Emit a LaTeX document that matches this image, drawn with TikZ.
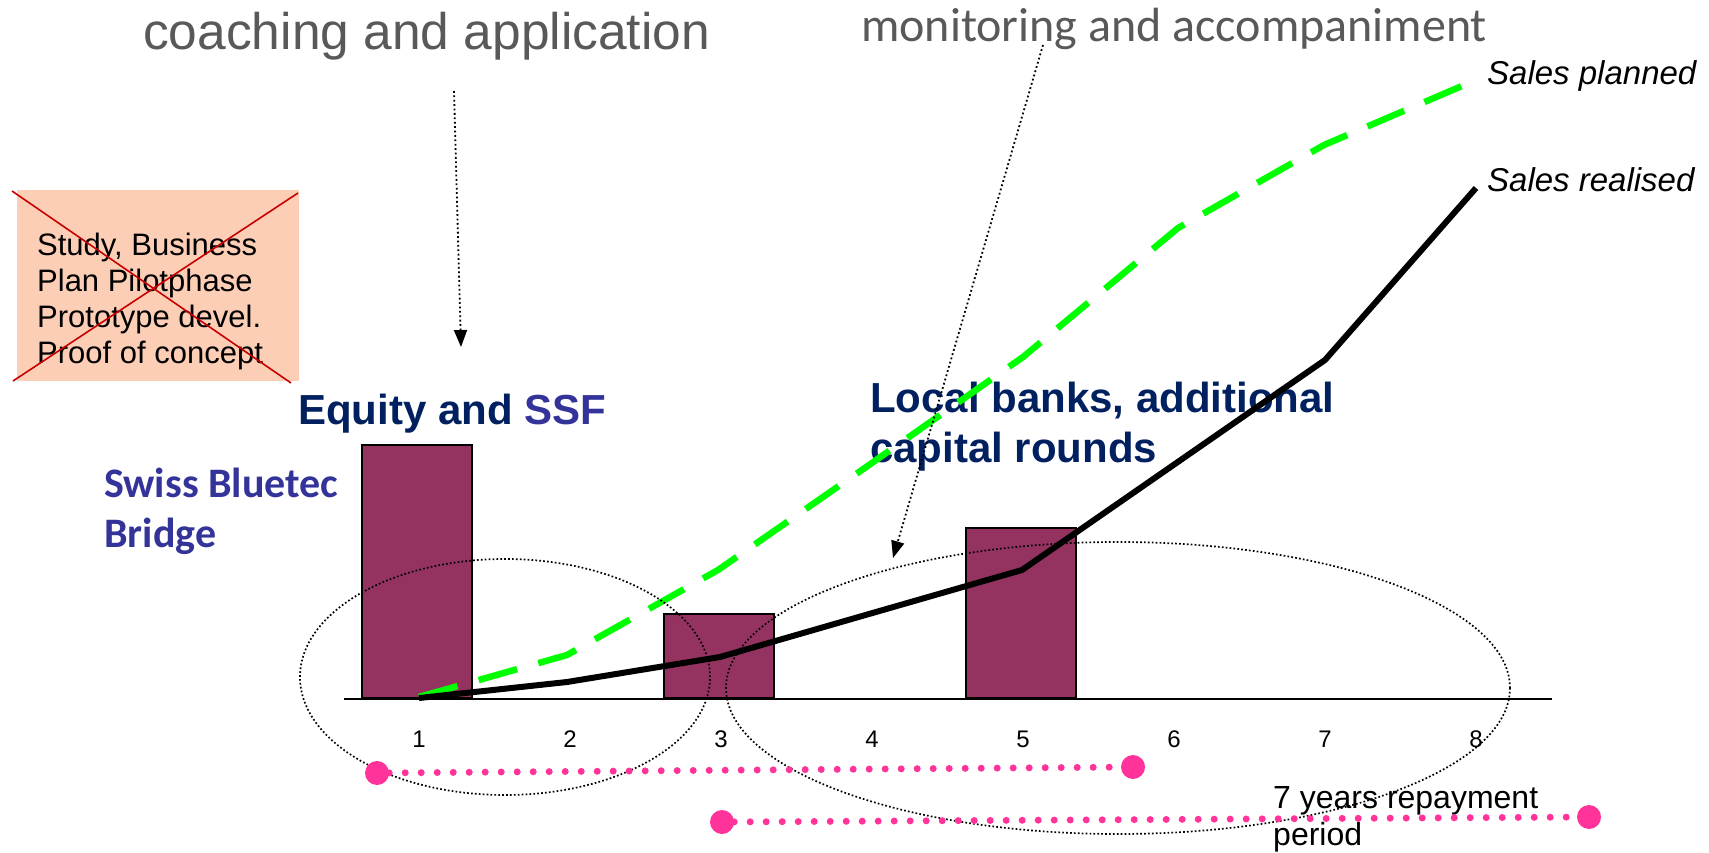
\documentclass[tikz,border=0pt]{standalone}
\usepackage{fontspec}
\setmainfont{Liberation Sans}
\newfontfamily\carlito{Carlito}
\usetikzlibrary{arrows.meta}
\definecolor{txtgray}{RGB}{89,89,89}
\definecolor{navy}{RGB}{0,32,96}
\definecolor{ssfblue}{RGB}{51,51,153}
\definecolor{barcol}{RGB}{148,51,96}
\definecolor{peach}{RGB}{252,206,182}
\definecolor{redx}{RGB}{200,0,0}
\definecolor{hotpink}{RGB}{255,51,153}
\definecolor{lime}{RGB}{0,255,0}
\begin{document}
\begin{tikzpicture}[x=1pt,y=-1pt,
  lbl/.style={inner sep=0pt, anchor=base west},
  bar/.style={draw=black, line width=2pt, fill=barcol, minimum width=110pt, inner sep=0pt, anchor=south},
  ticklbl/.style={inner sep=0pt, font=\fontsize{24}{28}\selectfont},
  ell/.style={draw=black, line width=1.7pt, dash pattern=on 1.7pt off 2.2pt},
  darrow/.style={draw=black, line width=1.8pt, dash pattern=on 1.8pt off 2.6pt, -{Triangle[length=17pt,width=13pt]}},
  pinkdot/.style={circle, fill=hotpink, minimum size=24pt, inner sep=0pt},
  pinkline/.style={draw=hotpink, line width=7pt, line cap=round, dash pattern=on 0pt off 16pt},
  planned/.style={draw=lime, line width=6.5pt, dash pattern=on 40pt off 22pt},
  realised/.style={draw=black, line width=6pt, line join=round},
  crossline/.style={draw=redx, line width=1.6pt}
]
\useasboundingbox (0,0) rectangle (1709,853);
\fill[white] (0,0) rectangle (1709,853);

% headings
\node[lbl, text=txtgray, font=\fontsize{51.5}{60}\selectfont] (coach) at (143,50) {coaching and application};
\node[lbl, text=txtgray, font=\carlito\fontsize{48}{58}\selectfont] (monit) at (861,42) {monitoring and accompaniment};

% crossed-out box
\node[fill=peach, minimum width=282pt, minimum height=191pt, inner sep=0pt, anchor=north west] (box) at (17,190) {};
\node[lbl, align=left, font=\fontsize{31}{35.7}\selectfont] (boxtext) at (37,363) {Study, Business\\Plan Pilotphase\\Prototype devel.\\Proof of concept};
\coordinate (xa) at (12,191); \coordinate (xb) at (291,383);
\coordinate (xc) at (13,381); \coordinate (xd) at (298,193);
\draw[crossline] (xa) -- (xb);
\draw[crossline] (xc) -- (xd);

% financing labels
\node[lbl, text=navy, font=\bfseries\fontsize{42}{50}\selectfont] (equity) at (298,424) {Equity and \textcolor{ssfblue}{SSF}};
\node[lbl, align=left, text=navy, font=\bfseries\fontsize{42}{50}\selectfont] (banks) at (870,462) {Local banks, additional\\capital rounds};
\node[lbl, align=left, text=ssfblue, font=\carlito\bfseries\fontsize{42}{50}\selectfont] (swiss) at (104,547) {Swiss Bluetec\\Bridge};
\node[lbl, align=left, font=\fontsize{32}{37}\selectfont] (repay) at (1273,845) {7 years repayment\\period};

% bars
\node[bar, minimum height=253pt] (bar1) at (417,699) {};
\node[bar, minimum height=84pt] (bar3) at (719,699) {};
\node[bar, minimum height=170pt] (bar5) at (1021,699) {};

% axis
\coordinate (axl) at (344,699); \coordinate (axr) at (1552,699);
\draw[black, line width=2pt] (axl) -- (axr);

% tick labels
\foreach \i in {1,...,8} {
  \node[ticklbl] (t\i) at ({419+151*(\i-1)},739) {\i};
}

% sales lines
\draw[planned] (419,697) -- (567,655) -- (718,570) -- (869,465) -- (1023,357) -- (1178,228) -- (1324,145) -- (1476,80);
\draw[realised] (419,698) -- (567,682) -- (720,657) -- (869,614) -- (1022,570) -- (1172,466) -- (1325,360) -- (1476,188);
\node[lbl, font=\itshape\fontsize{33}{37}\selectfont] (splan) at (1487,85) {Sales planned};
\node[lbl, font=\itshape\fontsize{33}{37}\selectfont] (sreal) at (1487,192) {Sales realised};

% ellipses
\draw[ell] (505,677) ellipse [x radius=205pt, y radius=118pt];
\draw[ell] (1118,688) ellipse [x radius=392pt, y radius=146pt];

% dotted arrows
\coordinate (a1s) at (454,91); \coordinate (a1e) at (461,347);
\coordinate (a2s) at (1043,45); \coordinate (a2e) at (893,558);
\draw[darrow] (a1s) -- (a1e);
\draw[darrow] (a2s) -- (a2e);

% repayment periods
\node[pinkdot] (p1a) at (377,773) {};
\node[pinkdot] (p1b) at (1133,767) {};
\node[pinkdot] (p2a) at (722,822) {};
\node[pinkdot] (p2b) at (1589,817) {};
\draw[pinkline] (p1a) -- (p1b);
\draw[pinkline] (p2a) -- (p2b);
\end{tikzpicture}
\end{document}
